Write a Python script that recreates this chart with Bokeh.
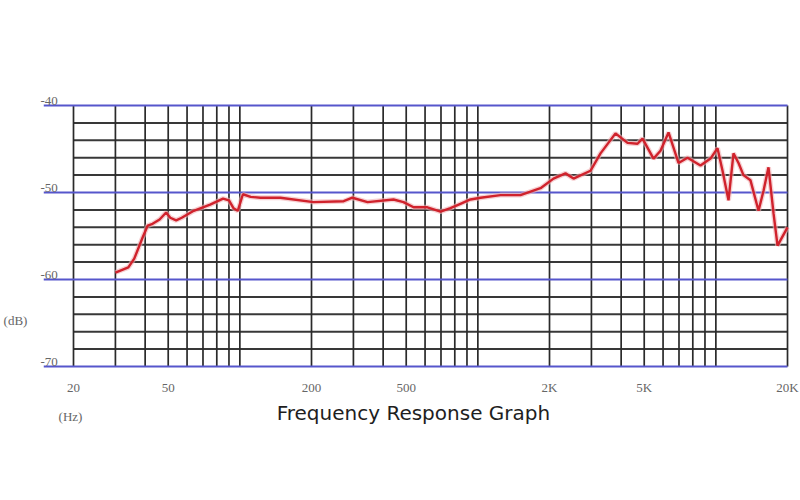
from bokeh.plotting import figure
from bokeh.models import Range1d
from bokeh.core.properties import value
from bokeh.embed import file_html
from bokeh.resources import INLINE

# ---- data ----
freq_hz = [30, 34, 36, 39, 41, 43, 46, 49, 51, 54, 57, 64, 75, 85, 90, 94, 98, 103, 111, 122,
           148, 204, 273, 297, 344, 442, 487, 537, 614, 697, 767, 845, 931, 1026, 1245, 1510,
           1664, 1834, 2078, 2335, 2523, 2974, 3276, 3788, 4254, 4686, 4918, 5470, 5854, 6325,
           6966, 7603, 8618, 9498, 10160, 10666, 11300, 11860, 12450, 13060, 13980, 15110,
           15860, 16640, 17470, 18160, 20000]
level_db = [-59.2, -58.6, -57.6, -55.2, -53.8, -53.6, -53.1, -52.3, -52.9, -53.2, -52.9, -52.1,
            -51.4, -50.7, -50.9, -51.8, -52.1, -50.2, -50.5, -50.6,
            -50.6, -51.1, -51.0, -50.6, -51.1, -50.8, -51.1, -51.7, -51.7, -52.2, -51.8, -51.3,
            -50.8, -50.6, -50.3, -50.3,
            -49.9, -49.5, -48.4, -47.8, -48.4, -47.5, -45.5, -43.2, -44.3, -44.4, -43.8, -46.1,
            -45.2, -43.1,
            -46.6, -46.0, -46.9, -46.1, -44.9, -47.5, -50.9, -45.5, -46.6, -48.0, -48.6, -52.1,
            -49.8, -47.1, -52.4, -56.1, -54.0]

grid_freqs = [20, 30, 40, 50, 60, 70, 80, 90, 100,
              200, 300, 400, 500, 600, 700, 800, 900, 1000,
              2000, 3000, 4000, 5000, 6000, 7000, 8000, 9000, 10000, 20000]
major_db = [-40, -50, -60, -70]
minor_db = [-42, -44, -46, -48, -52, -54, -56, -58, -62, -64, -66, -68]
db_labels = ["-40", "-50", "-60", "-70"]
tick_freqs = [20, 50, 200, 500, 2000, 5000, 20000]
tick_labels = ["20", "50", "200", "500", "2K", "5K", "20K"]
title_text = "Frequency Response Graph"
x_unit = "(Hz)"
y_unit = "(dB)"

W, H = 800, 500
p = figure(width=W, height=H, x_axis_type="log",
           x_axis_location=None, y_axis_location=None,
           x_range=Range1d(9.87, 22678), y_range=Range1d(-85.40, -27.93),
           output_backend="svg", toolbar_location=None, min_border=0)
p.outline_line_color = None
p.grid.visible = False
p.background_fill_color = "white"
p.border_fill_color = "white"

fmin, fmax = min(grid_freqs), max(grid_freqs)
dbtop, dbbot = max(major_db), min(major_db)

# black horizontal grid
p.segment(x0=fmin, y0=minor_db, x1=fmax, y1=minor_db, line_color="#383838", line_width=2)
# vertical grid
p.segment(x0=grid_freqs, y0=dbbot, x1=grid_freqs, y1=dbtop, line_color="#2a2a2a", line_width=1.7)
# blue major lines (extend left past the grid)
p.segment(x0=15, y0=major_db, x1=fmax, y1=major_db, line_color="#5656cc", line_width=2)

# response curve
p.line(freq_hz, level_db, line_color="#f0b0b4", line_width=5, line_alpha=0.6)
p.line(freq_hz, level_db, line_color="#d0222c", line_width=2.4)

lab_font = value("Liberation Serif")
# dB labels above blue lines
p.text(x=[fmin] * len(major_db), y=major_db, text=db_labels, x_offset=-33, y_offset=-1,
       text_align="left", text_baseline="bottom", text_font=lab_font,
       text_font_size="13px", text_color="#666666")
# frequency labels
p.text(x=tick_freqs, y=[dbbot] * len(tick_freqs), text=tick_labels, y_offset=21,
       text_align="center", text_baseline="middle", text_font=lab_font,
       text_font_size="13px", text_color="#666666")
# units
p.text(x=[fmin], y=[-60], text=[y_unit], x_offset=-58, y_offset=41,
       text_align="center", text_baseline="middle", text_font=lab_font,
       text_font_size="13px", text_color="#666666")
p.text(x=[fmin], y=[dbbot], text=[x_unit], x_offset=-3, y_offset=50,
       text_align="center", text_baseline="middle", text_font=lab_font,
       text_font_size="13px", text_color="#666666")
# title
p.text(x=[632], y=[dbbot], text=[title_text], x_offset=-17, y_offset=46,
       text_align="center", text_baseline="alphabetic", text_font=value("DejaVu Sans"),
       text_font_size="20px", text_color="#1e1e1e")

open("out.html", "w").write(file_html(p, INLINE))
